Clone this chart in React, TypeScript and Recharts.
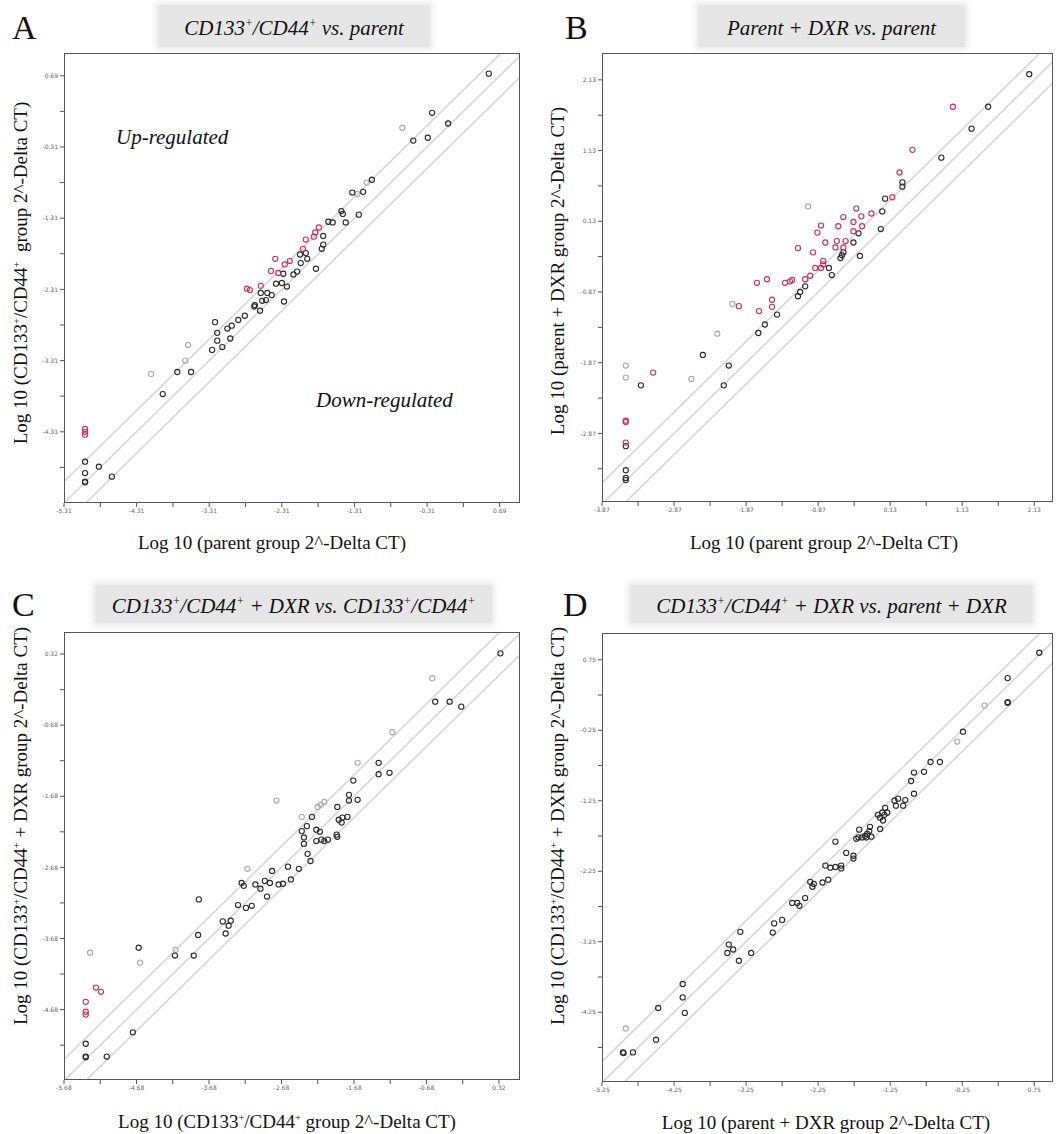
import React from 'react'
import { ScatterChart, Scatter, XAxis, YAxis, ReferenceLine } from 'recharts'

type Pt = [number, number]

// Panel A: CD133+/CD44+ vs parent
const aXTicks = [-5.31, -4.31, -3.31, -2.31, -1.31, -0.31, 0.69]
const aYTicks = [0.69, -0.31, -1.31, -2.31, -3.31, -4.31]
const aBlack: Pt[] = [
  [0.54, 0.72], [-0.24, 0.17], [-0.02, 0.02], [-0.5, -0.22], [-0.3, -0.18], [-1.07, -0.77], [-1.34, -0.95],
  [-1.19, -0.94], [-1.67, -1.36], [-1.49, -1.21], [-1.47, -1.25], [-1.43, -1.37], [-1.25, -1.26], [-1.61, -1.37],
  [-1.74, -1.56], [-1.74, -1.68], [-1.76, -1.74], [-1.98, -1.8], [-2.06, -1.82], [-1.96, -1.88], [-2.05, -1.94],
  [-1.84, -2.02], [-2.1, -2.06], [-2.15, -2.1], [-2.29, -2.09], [-2.39, -2.23], [-2.31, -2.22], [-2.24, -2.27],
  [-2.6, -2.36], [-2.51, -2.36], [-2.45, -2.39], [-2.28, -2.48], [-2.53, -2.46], [-2.58, -2.47], [-2.68, -2.53],
  [-2.69, -2.55], [-2.61, -2.61], [-2.82, -2.68], [-2.91, -2.74], [-3.0, -2.82], [-3.06, -2.86], [-3.2, -2.92],
  [-3.2, -3.03], [-3.13, -3.12], [-3.02, -3.0], [-3.27, -3.16], [-3.23, -2.77], [-3.75, -3.47], [-3.56, -3.47],
  [-3.95, -3.78], [-5.02, -4.73], [-4.83, -4.8], [-5.02, -4.89], [-5.02, -5.01], [-5.02, -5.02], [-4.65, -4.94],
]
const aGray: Pt[] = [[-0.65, -0.04], [-1.14, -0.81], [-1.27, -0.97], [-3.6, -3.09], [-3.64, -3.31], [-4.11, -3.5]]
const aRed: Pt[] = [
  [-1.8, -1.44], [-1.85, -1.51], [-1.87, -1.57], [-1.98, -1.61], [-2.02, -1.74], [-2.2, -1.91], [-2.27, -1.96],
  [-2.4, -1.88], [-2.46, -2.05], [-2.36, -2.08], [-2.6, -2.26], [-2.75, -2.32], [-2.79, -2.3],
  [-5.02, -4.27], [-5.02, -4.31], [-5.02, -4.35],
]

// Panel B: parent + DXR vs parent
const bXTicks = [-3.87, -2.87, -1.87, -0.87, 0.13, 1.13, 2.13]
const bYTicks = [2.13, 1.13, 0.13, -0.87, -1.87, -2.87]
const bBlack: Pt[] = [
  [2.06, 2.21], [1.49, 1.75], [1.26, 1.44], [0.84, 1.03], [0.3, 0.68], [0.3, 0.62], [0.06, 0.45], [0.02, 0.27],
  [0.0, 0.02], [-0.31, -0.04], [-0.38, -0.17], [-0.52, -0.31], [-0.54, -0.35], [-0.56, -0.39], [-0.29, -0.36],
  [-0.72, -0.53], [-0.68, -0.63], [-1.05, -0.79], [-1.12, -0.87], [-1.15, -0.93], [-1.44, -1.19], [-1.61, -1.33],
  [-1.7, -1.45], [-2.47, -1.76], [-2.11, -1.91], [-2.18, -2.19], [-3.33, -2.19], [-3.54, -3.05], [-3.54, -3.39],
  [-3.54, -3.5], [-3.54, -3.53],
]
const bRed: Pt[] = [
  [1.0, 1.75], [0.44, 1.14], [0.26, 0.82], [0.16, 0.47], [-0.34, 0.31], [-0.13, 0.24], [-0.27, 0.2], [-0.52, 0.19],
  [-0.83, 0.07], [-0.59, 0.06], [-0.38, 0.12], [-0.26, 0.06], [-0.88, -0.03], [-0.38, -0.01], [-0.77, -0.17],
  [-0.61, -0.15], [-0.49, -0.15], [-0.63, -0.24], [-0.52, -0.24], [-1.15, -0.25], [-0.94, -0.31], [-0.8, -0.43],
  [-0.8, -0.48], [-0.83, -0.53], [-0.91, -0.53], [-0.98, -0.64], [-1.05, -0.69], [-1.23, -0.7], [-1.26, -0.72],
  [-1.33, -0.74], [-1.58, -0.69], [-1.72, -0.74], [-1.51, -0.98], [-1.51, -1.08], [-1.69, -1.14], [-1.97, -1.07],
  [-3.16, -2.01], [-3.54, -2.69], [-3.54, -2.71], [-3.54, -3.0],
]
const bGray: Pt[] = [[-1.01, 0.34], [-2.06, -1.04], [-2.27, -1.46], [-2.63, -2.1], [-3.54, -1.91], [-3.54, -2.08]]

// Panel C: CD133+/CD44+ + DXR vs CD133+/CD44+
const cXTicks = [-5.68, -4.68, -3.68, -2.68, -1.68, -0.68, 0.32]
const cYTicks = [0.32, -0.68, -1.68, -2.68, -3.68, -4.68]
const cBlack: Pt[] = [
  [0.34, 0.33], [-0.56, -0.35], [-0.36, -0.35], [-0.2, -0.42], [-1.34, -1.21], [-1.34, -1.37], [-1.19, -1.35],
  [-1.69, -1.46], [-1.75, -1.66], [-1.75, -1.74], [-1.63, -1.73], [-1.91, -1.83], [-1.84, -1.98], [-1.89, -2.01],
  [-1.77, -1.97], [-1.85, -2.05], [-1.92, -2.22], [-1.91, -2.25], [-2.26, -1.97], [-2.33, -2.1], [-2.4, -2.17],
  [-2.2, -2.15], [-2.15, -2.18], [-2.37, -2.26], [-2.37, -2.35], [-2.2, -2.31], [-2.13, -2.29], [-2.09, -2.31],
  [-2.04, -2.29], [-2.32, -2.49], [-2.28, -2.59], [-2.81, -2.73], [-2.59, -2.67], [-2.44, -2.7], [-3.23, -2.9],
  [-3.2, -2.94], [-3.04, -2.92], [-2.97, -2.98], [-2.91, -2.87], [-2.84, -2.9], [-2.72, -2.92], [-2.66, -2.91],
  [-2.55, -2.85], [-2.88, -3.09], [-3.82, -3.13], [-3.28, -3.21], [-3.17, -3.25], [-3.09, -3.22], [-3.49, -3.44],
  [-3.38, -3.43], [-3.41, -3.5], [-3.45, -3.61], [-3.83, -3.63], [-4.15, -3.92], [-3.89, -3.92], [-4.65, -3.81],
  [-4.73, -5.0], [-5.38, -5.16], [-5.38, -5.34], [-5.38, -5.35], [-5.09, -5.34],
]
const cGray: Pt[] = [
  [-0.6, -0.02], [-1.15, -0.78], [-1.63, -1.21], [-2.75, -1.74], [-2.09, -1.76], [-2.18, -1.83], [-2.14, -1.8],
  [-2.4, -1.97], [-3.15, -2.7], [-4.14, -3.84], [-4.63, -4.02], [-5.32, -3.88],
]
const cRed: Pt[] = [[-5.24, -4.37], [-5.17, -4.43], [-5.38, -4.57], [-5.38, -4.71], [-5.38, -4.75]]

// Panel D: CD133+/CD44+ + DXR vs parent + DXR
const dXTicks = [-5.25, -4.25, -3.25, -2.25, -1.25, -0.25, 0.75]
const dYTicks = [0.75, -0.25, -1.25, -2.25, -3.25, -4.25]
const dBlack: Pt[] = [
  [0.82, 0.85], [0.38, 0.49], [0.38, 0.15], [0.38, 0.14], [-0.24, -0.27], [-0.56, -0.7], [-0.69, -0.7],
  [-0.78, -0.84], [-0.92, -0.85], [-0.96, -0.97], [-0.92, -1.15], [-1.04, -1.24], [-1.07, -1.32], [-1.14, -1.22],
  [-1.19, -1.25], [-1.17, -1.32], [-1.32, -1.35], [-1.36, -1.42], [-1.42, -1.45], [-1.39, -1.49], [-1.33, -1.45],
  [-1.29, -1.42], [-1.35, -1.53], [-1.39, -1.65], [-1.53, -1.62], [-1.54, -1.68], [-1.57, -1.72], [-1.6, -1.75],
  [-1.64, -1.77], [-1.69, -1.77], [-1.72, -1.79], [-1.58, -1.77], [-1.51, -1.76], [-1.68, -1.66], [-2.01, -1.83],
  [-1.86, -1.99], [-1.76, -2.03], [-1.76, -2.07], [-2.15, -2.17], [-2.08, -2.2], [-2.01, -2.19], [-1.93, -2.17],
  [-1.93, -2.21], [-2.36, -2.4], [-2.31, -2.43], [-2.33, -2.47], [-2.19, -2.41], [-2.11, -2.37], [-2.61, -2.7],
  [-2.54, -2.7], [-2.51, -2.74], [-2.43, -2.63], [-2.86, -2.99], [-2.75, -2.94], [-2.88, -3.12], [-3.33, -3.11],
  [-3.49, -3.29], [-3.43, -3.36], [-3.51, -3.41], [-3.35, -3.52], [-3.18, -3.41], [-4.13, -3.85], [-4.13, -4.04],
  [-4.1, -4.26], [-4.47, -4.19], [-4.5, -4.64], [-4.96, -4.82], [-4.95, -4.83], [-4.82, -4.82],
]
const dGray: Pt[] = [[0.06, 0.1], [-0.32, -0.41], [-4.92, -4.48]]

// fold-change boundaries (log10 of 2) around y = x
const foldOffsets = [-0.3, 0, 0.3]

const BLACK = '#2a2a2a'
const RED = '#cc2f5e'
const GRAY = '#ababab'
const serif = '"Liberation Serif", "Times New Roman", serif'

const AXIS_W = 46
const AXIS_H = 24
const PAD = 8

function withMinor(majors: number[], domain: [number, number]) {
  const out = new Set<number>(majors)
  majors.forEach((m) => {
    ;[m - 0.5, m + 0.5].forEach((v) => {
      const r = Math.round(v * 100) / 100
      if (r > domain[0] && r < domain[1]) out.add(r)
    })
  })
  return Array.from(out).sort((a, b) => a - b)
}

interface PanelProps {
  frame: { x: number; y: number; w: number; h: number }
  xDomain: [number, number]
  yDomain: [number, number]
  xTicks: number[]
  yTicks: number[]
  series: { pts: Pt[]; color: string }[]
}

function Panel({ frame, xDomain, yDomain, xTicks, yTicks, series }: PanelProps) {
  const lo = Math.min(xDomain[0], yDomain[0]) - 1
  const hi = Math.max(xDomain[1], yDomain[1]) + 1
  const fmt = (majors: number[]) => (v: number) => (majors.includes(v) ? v.toFixed(2) : '')
  const tickStyle = { fontSize: 6, fill: '#666', fontFamily: 'DejaVu Sans' }

  return (
    <>
      <div style={{ position: 'absolute', left: frame.x - AXIS_W, top: frame.y - PAD }}>
        <ScatterChart
          width={frame.w + AXIS_W + 2}
          height={frame.h + PAD + AXIS_H}
          margin={{ top: PAD, right: 2, bottom: 0, left: 0 }}
        >
          <XAxis
            type="number"
            dataKey="x"
            domain={xDomain}
            allowDataOverflow
            ticks={withMinor(xTicks, xDomain)}
            interval={0}
            tickFormatter={fmt(xTicks)}
            height={AXIS_H}
            tickSize={4}
            axisLine={false}
            tickLine={{ stroke: '#555' }}
            tick={tickStyle}
          />
          <YAxis
            type="number"
            dataKey="y"
            domain={yDomain}
            allowDataOverflow
            ticks={withMinor(yTicks, yDomain)}
            interval={0}
            tickFormatter={fmt(yTicks)}
            width={AXIS_W}
            tickSize={4}
            axisLine={false}
            tickLine={{ stroke: '#555' }}
            tick={tickStyle}
          />
          {foldOffsets.map((off) => (
            <ReferenceLine
              key={off}
              segment={[{ x: lo, y: lo + off }, { x: hi, y: hi + off }]}
              stroke="#d6d6d6"
              strokeWidth={1.6}
              ifOverflow="hidden"
            />
          ))}
          {series.map((s, i) => (
            <Scatter
              key={i}
              data={s.pts.map(([x, y]) => ({ x, y }))}
              isAnimationActive={false}
              shape={(p: any) => (
                <circle cx={p.cx} cy={p.cy} r={2.6} fill="none" stroke={s.color} strokeWidth={1.1} />
              )}
            />
          ))}
        </ScatterChart>
      </div>
      <div
        style={{
          position: 'absolute',
          left: frame.x,
          top: frame.y,
          width: frame.w,
          height: frame.h,
          border: '1.5px solid #555',
          boxSizing: 'border-box',
          pointerEvents: 'none',
        }}
      />
    </>
  )
}

const sup = (t: string) => <sup style={{ fontSize: '0.55em', lineHeight: 0 }}>{t}</sup>
const cd = (
  <>
    CD133{sup('+')}/CD44{sup('+')}
  </>
)

function Letter({ x, y, t }: { x: number; y: number; t: string }) {
  return <div style={{ position: 'absolute', left: x, top: y, fontFamily: serif, fontSize: 34, lineHeight: '34px' }}>{t}</div>
}

function Title({ x, y, w, h, lh, children }: { x: number; y: number; w: number; h: number; lh: number; children: React.ReactNode }) {
  return (
    <div
      style={{
        position: 'absolute', left: x, top: y, width: w, height: h, background: '#e6e6e6',
        boxShadow: '0 0 6px 3px #ececec', fontFamily: serif, fontStyle: 'italic', fontSize: 21,
        lineHeight: `${lh}px`, textAlign: 'center', whiteSpace: 'nowrap',
      }}
    >
      {children}
    </div>
  )
}

function XLabel({ cx, y, children }: { cx: number; y: number; children: React.ReactNode }) {
  return (
    <div style={{ position: 'absolute', left: cx - 250, top: y, width: 500, textAlign: 'center', fontFamily: serif, fontSize: 19, lineHeight: '19px', whiteSpace: 'nowrap' }}>
      {children}
    </div>
  )
}

function YLabel({ cx, cy, children }: { cx: number; cy: number; children: React.ReactNode }) {
  return (
    <div
      style={{
        position: 'absolute', left: cx - 260, top: cy - 11, width: 520, height: 22, textAlign: 'center',
        fontFamily: serif, fontSize: 19, lineHeight: '22px', whiteSpace: 'nowrap', transform: 'rotate(-90deg)',
      }}
    >
      {children}
    </div>
  )
}

export default function App() {
  return (
    <div style={{ position: 'absolute', left: 0, top: 0, width: 1057, height: 1134, background: '#fff', overflow: 'hidden', color: '#111' }}>
      {/* A */}
      <Letter x={12} y={11} t="A" />
      <Title x={158} y={5} w={272} h={42} lh={46}>{cd} vs. parent</Title>
      <Panel
        frame={{ x: 64, y: 53, w: 456, h: 450 }}
        xDomain={[-5.31, 0.97]}
        yDomain={[-5.31, 1.01]}
        xTicks={aXTicks}
        yTicks={aYTicks}
        series={[{ pts: aGray, color: GRAY }, { pts: aBlack, color: BLACK }, { pts: aRed, color: RED }]}
      />
      <div style={{ position: 'absolute', left: 116, top: 127, fontFamily: serif, fontStyle: 'italic', fontSize: 21, lineHeight: '21px' }}>Up-regulated</div>
      <div style={{ position: 'absolute', left: 316, top: 390, fontFamily: serif, fontStyle: 'italic', fontSize: 21, lineHeight: '21px' }}>Down-regulated</div>
      <XLabel cx={272} y={533}>Log 10 (parent group 2^-Delta CT)</XLabel>
      <YLabel cx={21} cy={273}>Log 10 ({cd}&nbsp; group 2^-Delta CT)</YLabel>

      {/* B */}
      <Letter x={565} y={11} t="B" />
      <Title x={698} y={5} w={267} h={42} lh={46}>Parent + DXR vs. parent</Title>
      <Panel
        frame={{ x: 602, y: 53, w: 451, h: 449 }}
        xDomain={[-3.87, 2.39]}
        yDomain={[-3.84, 2.51]}
        xTicks={bXTicks}
        yTicks={bYTicks}
        series={[{ pts: bGray, color: GRAY }, { pts: bBlack, color: BLACK }, { pts: bRed, color: RED }]}
      />
      <XLabel cx={824} y={533}>Log 10 (parent group 2^-Delta CT)</XLabel>
      <YLabel cx={558} cy={271}>Log 10 (parent + DXR group 2^-Delta CT)</YLabel>

      {/* C */}
      <Letter x={12} y={588} t="C" />
      <Title x={95} y={585} w={397} h={38} lh={42}>{cd} + DXR vs. {cd}</Title>
      <Panel
        frame={{ x: 64, y: 632, w: 456, h: 448 }}
        xDomain={[-5.68, 0.61]}
        yDomain={[-5.67, 0.63]}
        xTicks={cXTicks}
        yTicks={cYTicks}
        series={[{ pts: cGray, color: GRAY }, { pts: cBlack, color: BLACK }, { pts: cRed, color: RED }]}
      />
      <XLabel cx={287} y={1112}>Log 10 ({cd} group 2^-Delta CT)</XLabel>
      <YLabel cx={21} cy={826}>Log 10 ({cd} + DXR group 2^-Delta CT)</YLabel>

      {/* D */}
      <Letter x={563} y={588} t="D" />
      <Title x={630} y={585} w={403} h={38} lh={42}>{cd} + DXR vs. parent + DXR</Title>
      <Panel
        frame={{ x: 602, y: 633, w: 451, h: 449 }}
        xDomain={[-5.25, 1.01]}
        yDomain={[-5.24, 1.13]}
        xTicks={dXTicks}
        yTicks={dYTicks}
        series={[{ pts: dGray, color: GRAY }, { pts: dBlack, color: BLACK }]}
      />
      <XLabel cx={826} y={1113}>Log 10 (parent + DXR group 2^-Delta CT)</XLabel>
      <YLabel cx={558} cy={826}>Log 10 ({cd} + DXR group 2^-Delta CT)</YLabel>
    </div>
  )
}
